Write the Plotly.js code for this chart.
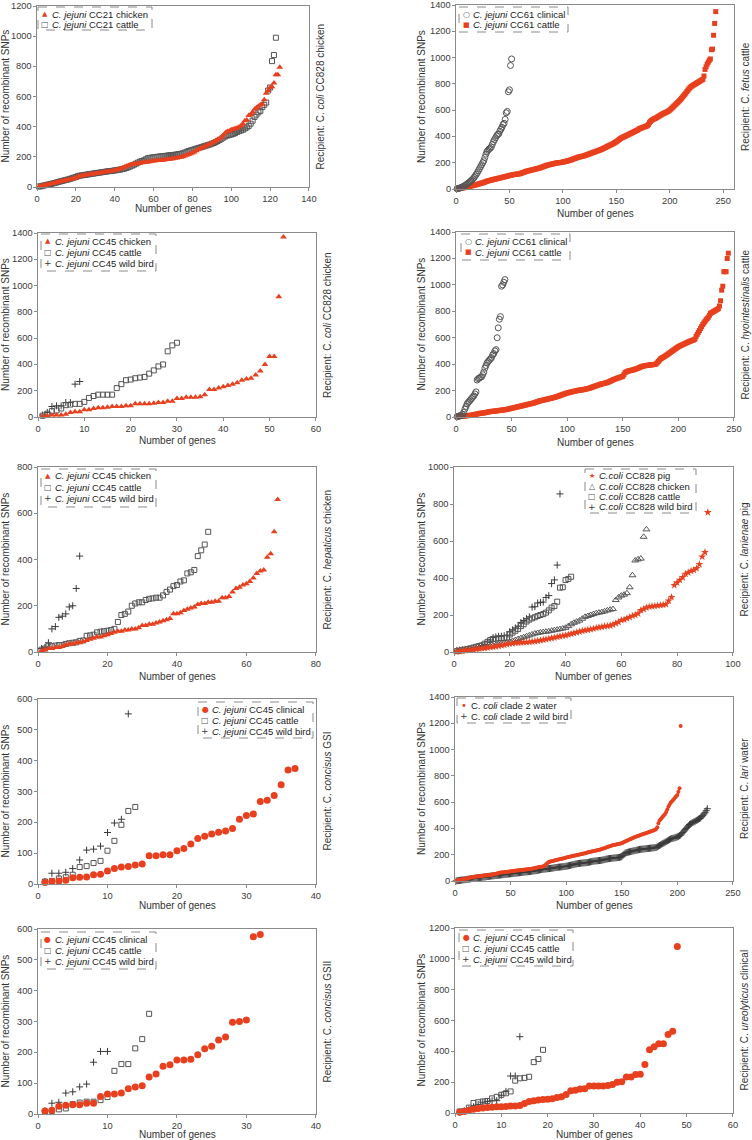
<!DOCTYPE html>
<html><head><meta charset="utf-8">
<script src="https://cdn.plot.ly/plotly-3.0.1.min.js"></script>
<style>body{margin:0;background:#fff}#chart{width:752px;height:1140px}</style>
</head><body><div id="chart"></div>
<script>
// ---------- DATA (recombinant SNPs per gene, sorted ranks) ----------
// Panel 1: Recipient C. coli CC828 chicken
const p1_cc21_chicken = [3,6,9,12,15,18,21,24,27,30, 33,36,39,42,45,48,50,53,56,60, 68,72,75,77,79,81,83,85,87,89, 91,93,95,97,99,101,103,105,107,110, 113,117,121,126,132,138,143,147,150,152, 154,156,158,160,162,164,166,168,170,172, 174,175,176,177,178,180,182,184,186,188, 190,192,195,198,201,205,210,215,220,225, 232,240,248,255,260,266,272,280,286,291, 298,306,315,322,331,345,360,368,372,379, 383,388,392,398,406,420,440,445,475,480, 495,515,525,535,545,550,578,622,640,660, 665,690,745,745,795];
const p1_cc21_cattle = [3,5,8,11,14,17,20,23,26,30, 33,37,40,44,47,50,54,58,62,66, 72,75,77,79,81,83,85,87,89,91, 93,95,97,99,101,103,105,106,108,110, 112,114,116,119,122,126,131,136,142,148, 155,162,168,172,176,183,190,193,195,197, 199,200,202,203,205,206,208,210,211,212, 214,216,218,220,223,228,233,238,242,246, 250,254,258,262,266,270,274,278,282,287, 292,298,305,312,320,328,336,341,345,348, 352,358,365,370,375,380,388,395,405,420, 440,465,480,495,505,530,545,560,640,660, 835,875,990];
// Panel 2: Recipient C. fetus cattle
const p2_cc61_clinical = [2,4,6,9,12,16,20,25,30,36, 42,48,55,62,70,78,88,100,112,125, 140,155,170,185,200,215,240,265,285,295, 305,310,320,340,360,375,390,405,415,420, 440,455,470,490,500,530,580,590,740,755, 940,990];
const p2_cc61_cattle = [1,2,3,5,6,8,9,11,13,15, 17,19,21,23,25,27,29,31,33,35, 38,40,42,45,47,50,53,56,59,62, 64,66,68,70,72,74,76,78,80,82, 84,86,88,90,92,94,96,98,100,102, 104,106,108,110,111,112,113,114,115,117, 120,123,126,129,132,135,137,139,141,143, 145,147,149,151,153,155,157,159,162,165, 168,171,174,177,180,182,184,186,188,190, 192,194,196,198,199,200,201,202,203,205, 207,209,211,213,215,217,220,223,226,229, 232,235,238,241,243,245,247,249,251,253, 256,259,262,265,268,271,274,277,280,283, 286,289,292,295,298,301,305,309,313,317, 321,325,329,333,337,341,345,350,355,360, 366,372,378,384,389,393,397,401,405,409, 413,417,421,425,429,433,437,441,445,449, 455,460,463,466,469,472,475,478,482,490, 505,515,522,528,532,536,540,545,550,555, 560,565,570,575,578,581,585,590,595,600, 608,616,624,632,640,648,656,664,672,680, 690,700,710,720,730,742,752,762,772,780, 785,790,795,800,805,810,815,820,825,830, 835,860,910,930,950,965,980,990,1060,1065,1170,1260,1350];
// Panel 3: Recipient C. coli CC828 chicken (CC45)
const p3_cc45_chicken = [5,10,15,15,15,20,35,40,40,55, 55,65,70,70,75,80,80,80,85,85, 100,100,100,100,105,110,110,120,120,140, 140,150,150,150,155,170,210,210,220,230, 240,250,260,280,290,295,320,350,400,460, 460,915,1370];
const p3_cc45_cattle = [10,25,45,50,65,90,95,100,100,115, 145,160,170,170,170,170,220,250,280,285, 295,300,305,330,355,385,400,500,545,565];
const p3_cc45_wildbird = [15,35,80,85,85,110,110,250,270];
// Panel 4: Recipient C. hyointestinalis cattle
const p4_cc61_clinical = [3,6,8,10,12,20,35,60,80,100, 110,120,130,140,150,160,175,190,280,290, 295,300,305,320,340,370,390,410,420,430, 440,450,470,480,500,510, 600,675,740,760,990,1000,1020,1040];
const p4_cc61_cattle = [1,2,3,4,5,6,7,8,9,10, 11,12,13,14,15,17,19,21,23,25, 27,28,29,30,31,32,34,36,38,40, 41,42,43,44,45,46,47,48,49,51, 52,53,54,55,56,58,60,62,64,66, 68,70,72,74,76,78,80,82,84,86, 88,90,92,94,96,98,100,102,104,106, 109,112,115,118,121,123,125,127,129,131, 133,135,137,139,141,143,145,147,149,152, 155,158,161,164,167,170,173,176,179,182, 184,186,188,190,192,194,196,198,200,202, 203,204,205,206,208,210,212,214,216,218, 221,224,227,230,233,236,239,242,245,248, 250,252,254,256,258,261,264,268,272,276, 280,284,287,290,293,296,299,302,305,308, 320,335,340,345,348,350,352,354,356,358, 361,364,367,370,374,378,382,384,386,388, 390,391,392,393,394,395,396,397,398,402, 410,420,430,440,445,450,455,460,466,472, 478,484,490,496,502,508,514,520,526,532, 536,540,544,548,552,556,560,564,568,572, 575,578,581,584,590,610,625,640,655,670, 685,700,712,724,736,745,755,770,785,790, 795,800,805,810,815,820,840,880,960,990, 1100,1100,1100,1200,1240];
// Panel 5: Recipient C. hepaticus chicken
const p5_cc45_chicken = [5,10,15,15,20,20,25,30,35,35, 40,40,45,50,55,60,65,65,70,75, 80,85,90,90,95,95,100,100,105,115, 115,120,120,125,130,135,140,145,165,165, 170,180,185,190,195,205,210,210,215,215, 220,220,235,235,240,260,275,280,290,295, 305,320,340,350,355,410,425,520,660];
const p5_cc45_cattle = [10,15,25,25,28,30,30,35,38,40, 42,48,50,70,72,75,85,88,90,92, 95,100,130,160,165,175,200,210,215,215, 225,230,232,235,235,245,260,270,285,290, 305,310,340,345,355,415,440,465,520];
const p5_cc45_wildbird = [15,20,40,100,110,150,155,165,195,200,275,415];
// Panel 6: Recipient C. lanienae pig
const p6_cc828_pig = [2,4,6,8,10,12,14,16,18,20, 22,24,26,28,30,33,36,39,42,45, 47,49,50,51,52,53,54,56,58,60, 63,66,69,72,75,78,82,85,88,90, 94,98,102,106,110,114,117,120,123,126, 130,133,136,139,141,143,148,155,162,172, 175,182,188,195,200,208,225,232,240,245, 247,249,251,253,255,258,277,296,361,375, 389,404,422,429,438,443,452,474,515,539,755];
const p6_cc828_chicken = [3,5,8,10,12,14,16,18,20,22, 25,28,32,35,38,42,45,48,52,56, 60,65,70,75,80,85,90,95,100,103, 106,108,110,112,115,118,121,124,127,131, 140,150,158,164,170,180,190,195,200,205, 210,213,216,220,225,229,232,281,295,305, 310,318,350,415,495,501,505,623,663];
const p6_cc828_cattle = [5,8,10,13,16,20,24,28,32,36, 45,55,65,70,72,74,75,76,78,95, 105,115,125,140,150,165,175,182,188,195, 200,205,213,225,240,249,272,348,350,389,395,407];
const p6_cc828_wildbird = [8,10,12,14,16,18,22,26,30,35, 40,55,65,78,82,85,85,88,90,110, 120,130,140,160,170,180,190,243,245,265, 268,270,295,305,370,390,470,855];
// Panel 7: Recipient C. concisus GSI
const p7_cc45_clinical = [5,8,10,12,20,22,23,30,32,42, 50,55,57,62,65,92,92,95,95,108, 115,130,148,155,162,168,172,180,210,222, 227,268,272,287,322,370,375];
const p7_cc45_cattle = [8,10,18,22,30,55,58,68,75,108,140,192,237,250];
const p7_cc45_wildbird = [8,35,35,38,50,78,110,113,123,167,198,210,552];
// Panel 8: Recipient C. lari water
const p8_clade2_water = [1,3,5,7,9,11,13,15,17,19, 21,23,25,27,29,31,32,33,34,35, 36,37,38,39,40,41,42,43,44,45, 46,47,48,50,52,54,56,58,60,62, 64,65,66,67,68,69,70,71,72,74, 75,76,77,78,79,80,81,82,83,84, 85,86,87,88,89,90,91,92,93,95, 97,99,101,103,105,106,107,108,110,115, 120,128,136,142,146,148,150,152,155,158, 160,162,164,166,168,170,172,174,176,178, 180,182,184,186,188,190,192,194,196,198, 200,202,204,206,208,210,212,214,216,218, 220,222,224,226,228,230,232,234,236,238, 240,243,246,249,252,255,258,261,264,267, 270,272,274,276,278,280,282,284,286,288, 292,296,300,304,308,312,316,320,324,328, 332,335,338,341,344,347,350,353,356,359, 362,365,368,371,374,377,380,383,386,390, 395,410,440,460,470,480,490,500,510,525, 545,565,580,595,605,615,625,635,645,655, 680,705,1180];
const p8_clade2_wildbird = [1,2,3,4,6,7,8,9,10,12, 13,14,15,16,18,19,20,21,22,24, 25,26,27,28,29,30,31,32,34,35, 36,37,38,39,40,41,42,43,44,45, 46,47,48,49,50,51,52,53,54,55, 56,57,58,59,60,61,62,63,64,65, 66,67,68,69,70,71,72,73,74,76, 77,78,79,80,82,84,86,88,89,90, 91,92,93,94,95,96,97,98,100,102, 103,104,105,106,107,108,109,110,111,112, 114,116,118,120,122,124,126,128,130,132, 133,134,135,136,137,138,139,140,141,142, 144,146,148,150,151,152,153,154,155,156, 157,158,160,162,164,166,168,170,171,172, 173,174,175,176,177,178,179,180,182,185, 195,205,212,215,218,220,222,224,226,228, 230,232,234,236,238,240,241,242,243,244, 245,246,247,248,249,250,251,252,253,254, 256,260,265,270,275,280,285,290,295,300, 305,310,315,320,323,325,327,330,333,336, 340,345,350,360,370,380,390,400,410,420, 430,435,440,445,450,455,460,465,470,475, 480,490,500,510,520,535,550];
// Panel 9: Recipient C. concisus GSII
const p9_cc45_clinical = [10,12,25,28,30,30,35,35,57,65, 65,68,82,88,92,120,130,155,160,175, 175,178,192,212,220,240,250,298,300,305, 575,582];
const p9_cc45_cattle = [8,10,15,18,32,37,40,40,45,55,140,162,162,213,243,325];
const p9_cc45_wildbird = [10,35,38,68,72,88,97,168,203,203];
// Panel 10: Recipient C. ureolyticus clinical
const p10_cc45_clinical = [5,10,18,25,30,32,35,38,40,40, 42,45,45,48,62,75,80,85,88,90, 92,100,105,120,145,148,155,158,175,175, 175,175,178,185,200,202,233,233,250,252, 315,410,430,450,450,510,530,1080];
const p10_cc45_cattle = [10,12,35,65,70,75,78,95,105,118,128,140,210,225,228,235,330,350,410];
const p10_cc45_wildbird = [5,15,25,40,55,70,75,80,80,115,140,240,240,495];

// ---------- STYLE / LAYOUT ----------
const W = 752, H = 1140;
const X = p => p / W, Y = p => 1 - p / H;
const RED = '#E8401E', GRY = '#555555', DRK = '#3a3a3a';
const FONT = 'Liberation Sans, Arial, sans-serif';
const MK = {
  tri:  {m:{symbol:'triangle-up', size:6, color:RED}, ch:'▲', c:RED, fs:7},
  sqo:  {m:{symbol:'square-open', size:5, color:GRY, line:{width:1}}, ch:'□', c:GRY, fs:8},
  plus: {m:{symbol:'cross-thin-open', size:5, color:DRK, line:{width:1, color:DRK}}, ch:'+', c:DRK, fs:9},
  cio:  {m:{symbol:'circle-open', size:6, color:GRY, line:{width:1}}, ch:'○', c:GRY, fs:8},
  sqr:  {m:{symbol:'square', size:5, color:RED}, ch:'■', c:RED, fs:7},
  star: {m:{symbol:'star', size:6, color:RED}, ch:'★', c:RED, fs:7},
  trio: {m:{symbol:'triangle-up-open', size:6, color:GRY, line:{width:1}}, ch:'△', c:GRY, fs:8},
  cir:  {m:{symbol:'circle', size:7, color:RED}, ch:'●', c:RED, fs:8},
  dot:  {m:{symbol:'circle', size:4, color:RED}, ch:'•', c:RED, fs:10}
};
const J = s => '<i>C. jejuni</i> ' + s;
const panels = [
 {xr:[0,140], yr:[0,1200], xd:[37,309], yd:[6,187], dx:20, dy:200, lab:'Recipient: C. <i>coli</i> CC828 chicken', lx:320, xt:208, yt:5,
  box:[38,7,152,30], sp:11,
  s:[{n:J('CC21 chicken'), y:p1_cc21_chicken, k:'tri'}, {n:J('CC21 cattle'), y:p1_cc21_cattle, k:'sqo'}]},
 {xr:[0,260], yr:[0,1400], xd:[456,734], yd:[5,189], dx:50, dy:200, lab:'Recipient: C. <i>fetus</i> cattle', lx:745, xt:213, yt:421,
  box:[459,7,568,32], sp:11,
  s:[{n:J('CC61 clinical'), y:p2_cc61_clinical, k:'cio'}, {n:J('CC61 cattle'), y:p2_cc61_cattle, k:'sqr'}]},
 {xr:[0,60], yr:[0,1400], xd:[38,316], yd:[233,417], dx:10, dy:200, lab:'Recipient: C. <i>coli</i> CC828 chicken', lx:327, xt:440, yt:5,
  box:[41,234,156,271], sp:11.2,
  s:[{n:J('CC45 chicken'), y:p3_cc45_chicken, k:'tri'}, {n:J('CC45 cattle'), y:p3_cc45_cattle, k:'sqo'}, {n:J('CC45 wild bird'), y:p3_cc45_wildbird, k:'plus'}]},
 {xr:[0,250], yr:[0,1400], xd:[456,734], yd:[232,417], dx:50, dy:200, lab:'Recipient: C. <i>hyointestinalis</i> cattle', lx:745, xt:442, yt:421,
  box:[461,234,570,260], sp:11,
  s:[{n:J('CC61 clinical'), y:p4_cc61_clinical, k:'cio'}, {n:J('CC61 cattle'), y:p4_cc61_cattle, k:'sqr'}]},
 {xr:[0,80], yr:[0,800], xd:[38,316], yd:[467,652], dx:20, dy:200, lab:'Recipient: C. <i>hepaticus</i> chicken', lx:327, xt:676, yt:5,
  box:[41,469,156,507], sp:11.2,
  s:[{n:J('CC45 chicken'), y:p5_cc45_chicken, k:'tri'}, {n:J('CC45 cattle'), y:p5_cc45_cattle, k:'sqo'}, {n:J('CC45 wild bird'), y:p5_cc45_wildbird, k:'plus'}]},
 {xr:[0,100], yr:[0,1000], xd:[454,733], yd:[467,652], dx:20, dy:200, lab:'Recipient: C. <i>lanienae</i> pig', lx:744, xt:676, yt:421,
  box:[585,469,696,513], sp:10.3,
  s:[{n:'<i>C.coli</i> CC828 pig', y:p6_cc828_pig, k:'star'}, {n:'<i>C.coli</i> CC828 chicken', y:p6_cc828_chicken, k:'trio'}, {n:'<i>C.coli</i> CC828 cattle', y:p6_cc828_cattle, k:'sqo'}, {n:'<i>C.coli</i> CC828 wild bird', y:p6_cc828_wildbird, k:'plus'}]},
 {xr:[0,40], yr:[0,600], xd:[38,316], yd:[699,884], dx:10, dy:100, lab:'Recipient: C. <i>concisus</i> GSI', lx:327, xt:905, yt:5,
  box:[198,702,313,738], sp:11,
  s:[{n:J('CC45 clinical'), y:p7_cc45_clinical, k:'cir'}, {n:J('CC45 cattle'), y:p7_cc45_cattle, k:'sqo'}, {n:J('CC45 wild bird'), y:p7_cc45_wildbird, k:'plus'}]},
 {xr:[0,250], yr:[0,1400], xd:[455,733], yd:[697,881], dx:50, dy:200, lab:'Recipient: C. <i>lari</i> water', lx:744, xt:905, yt:421,
  box:[457,698,571,723], sp:11,
  s:[{n:'C. <i>coli</i> clade 2 water', y:p8_clade2_water, k:'dot'}, {n:'C. <i>coli</i> clade 2 wild bird', y:p8_clade2_wildbird, k:'plus'}]},
 {xr:[0,40], yr:[0,600], xd:[38,316], yd:[929,1114], dx:10, dy:100, lab:'Recipient: C. <i>concisus</i> GSII', lx:327, xt:1134, yt:5,
  box:[41,932,156,969], sp:11.2,
  s:[{n:J('CC45 clinical'), y:p9_cc45_clinical, k:'cir'}, {n:J('CC45 cattle'), y:p9_cc45_cattle, k:'sqo'}, {n:J('CC45 wild bird'), y:p9_cc45_wildbird, k:'plus'}]},
 {xr:[0,60], yr:[0,1200], xd:[455,733], yd:[928,1113], dx:10, dy:200, lab:'Recipient: C. <i>ureolyticus</i> clinical', lx:744, xt:1134, yt:421,
  box:[459,930,573,966], sp:11,
  s:[{n:J('CC45 clinical'), y:p10_cc45_clinical, k:'cir'}, {n:J('CC45 cattle'), y:p10_cc45_cattle, k:'sqo'}, {n:J('CC45 wild bird'), y:p10_cc45_wildbird, k:'plus'}]}
];

const traces = [], annotations = [], tickAnn = [], shapes = [];
const layout = {
  width: W, height: H, margin:{l:0,r:0,t:0,b:0},
  paper_bgcolor:'#fff', plot_bgcolor:'rgba(0,0,0,0)', showlegend:false,
  font:{family:FONT, size:10, color:'#333'}
};
const TICKFONT = {size:9.3, color:'#3a3a3a', family:FONT};
const axBase = {showline:true, mirror:true, linecolor:'#8a8a8a', linewidth:1, ticks:'outside', ticklen:3,
  tickcolor:'#8a8a8a', tickwidth:1, showgrid:false, zeroline:false, tickmode:'array', tickfont:TICKFONT};
const txt = (x, y, text, size, extra) => Object.assign({xref:'paper', yref:'paper', x:X(x), y:Y(y), text:text,
  showarrow:false, xanchor:'center', yanchor:'middle', font:{size:size, color:'#333', family:FONT}, borderpad:0}, extra || {});
const ticksOf = (r, d) => { const v = []; for (let t = r[0]; t <= r[1] + 1e-9; t += d) v.push(t); return v; };

panels.forEach((p, i) => {
  const k = i + 1, sfx = k === 1 ? '' : String(k);
  const xr = [p.xr[0], p.xr[1] + p.dx * 0.002], yr = [p.yr[0], p.yr[1] + p.dy * 0.002];
  const xv = ticksOf(p.xr, p.dx), yv = ticksOf(p.yr, p.dy);
  layout['xaxis' + sfx] = Object.assign({}, axBase, {domain:[X(p.xd[0]), X(p.xd[1])], range:xr,
    tickvals:xv, ticktext:xv.map(String), anchor:'y' + sfx});
  layout['yaxis' + sfx] = Object.assign({}, axBase, {domain:[Y(p.yd[1]), Y(p.yd[0])], range:yr,
    tickvals:yv, showticklabels:false, anchor:'x' + sfx});
  // y tick labels: positioned in paper space from the axis range
  const d0 = Y(p.yd[1]), d1 = Y(p.yd[0]);
  yv.forEach(v => tickAnn.push({xref:'paper', yref:'paper', x:X(p.xd[0] - 4),
    y:d0 + (v - yr[0]) / (yr[1] - yr[0]) * (d1 - d0), text:String(v),
    showarrow:false, xanchor:'right', yanchor:'middle', font:TICKFONT, borderpad:0}));
  // series drawn in reverse so the first legend entry sits on top
  p.s.slice().reverse().forEach(s => {
    traces.push({type:'scatter', mode:'markers', xaxis:'x' + sfx, yaxis:'y' + sfx, name:s.n,
      x:s.y.map((_, j) => j + 1), y:s.y, marker:MK[s.k].m, cliponaxis:false, hoverinfo:'x+y'});
  });
  // axis titles
  const cy = (p.yd[0] + p.yd[1]) / 2;
  annotations.push(txt((p.xd[0] + p.xd[1]) / 2, p.xt, 'Number of genes', 10));
  annotations.push(txt(p.yt, cy, 'Number of recombinant SNPs', 10, {textangle:-90}));
  // legend box
  const b = p.box;
  shapes.push({type:'rect', xref:'paper', yref:'paper', x0:X(b[0]), x1:X(b[2]), y0:Y(b[1]), y1:Y(b[3]),
    line:{color:'#8a8a8a', width:1, dash:'dash'}, layer:'below'});
  p.s.forEach((s, j) => {
    const yy = b[1] + 7 + j * p.sp;
    annotations.push(txt(b[0] + 7, yy, MK[s.k].ch, MK[s.k].fs,
      {font:{size:MK[s.k].fs, family:'DejaVu Sans', color:MK[s.k].c}}));
    annotations.push(txt(b[0] + 13, yy, s.n, 9.5, {xanchor:'left', font:{size:9.5, color:'#222', family:FONT}}));
  });
  // recipient label on the right
  annotations.push(txt(p.lx, cy, p.lab, 10, {textangle:-90}));
});
layout.annotations = annotations.concat(tickAnn);
layout.shapes = shapes;
Plotly.newPlot('chart', traces, layout, {displayModeBar:false, staticPlot:true});
</script></body></html>
